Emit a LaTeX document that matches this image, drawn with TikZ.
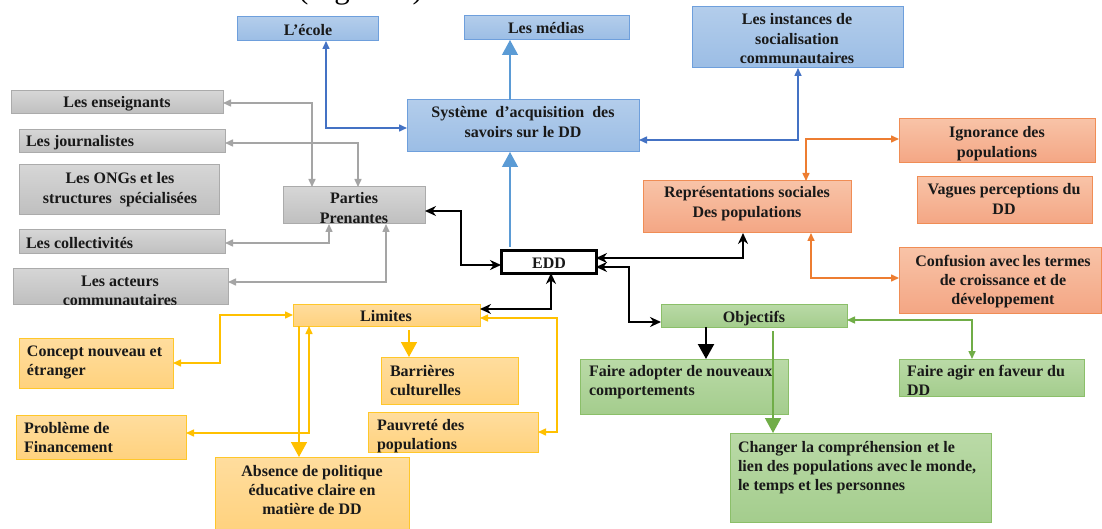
\documentclass[tikz,border=0pt]{standalone}
\usepackage{fontspec}
\setmainfont{Liberation Serif}
\usetikzlibrary{arrows.meta}
\definecolor{bluetop}{HTML}{B3CDEB}
\definecolor{bluebot}{HTML}{9BBDE5}
\definecolor{bluebd}{HTML}{6E9FDC}
\definecolor{graytop}{HTML}{D6D6D6}
\definecolor{graybot}{HTML}{BFBFBF}
\definecolor{graybd}{HTML}{ABABAB}
\definecolor{ortop}{HTML}{F8C3A7}
\definecolor{orbot}{HTML}{F4A684}
\definecolor{orbd}{HTML}{F08D55}
\definecolor{yeltop}{HTML}{FFDD9E}
\definecolor{yelbot}{HTML}{FFD27E}
\definecolor{yelbd}{HTML}{FFC72A}
\definecolor{grtop}{HTML}{BADAA7}
\definecolor{grbot}{HTML}{A4CD8D}
\definecolor{grbd}{HTML}{8BBF69}
\definecolor{lnblue}{HTML}{4472C4}
\definecolor{lnlblue}{HTML}{5B9BD5}
\definecolor{lngray}{HTML}{A5A5A5}
\definecolor{lnorange}{HTML}{ED7D31}
\definecolor{lnyel}{HTML}{FFC000}
\definecolor{lngreen}{HTML}{70AD47}
\newcommand\mkbox[6]{\node[#1, minimum width={#4-#2}, minimum height={#5-#3}] (#6) at ({(#2+#4)/2},{(#3+#5)/2}) {};}
\newcommand\ctext[1]{\vtop{\halign{\hfil##\hfil\cr#1\crcr}}}
\newcommand\ltext[1]{\vtop{\halign{##\hfil\cr#1\crcr}}}
\tikzset{
  box/.style={line width=1pt, inner sep=0pt, outer sep=0pt},
  bluebox/.style={box, draw=bluebd, top color=bluetop, bottom color=bluebot},
  graybox/.style={box, draw=graybd, top color=graytop, bottom color=graybot},
  orbox/.style={box, draw=orbd, top color=ortop, bottom color=orbot},
  yelbox/.style={box, draw=yelbd, top color=yeltop, bottom color=yelbot},
  grbox/.style={box, draw=grbd, top color=grtop, bottom color=grbot},
  eddbox/.style={box, draw=black, line width=3pt, fill=white},
  lbl/.style={inner sep=0pt, outer sep=0pt, font=\bfseries\fontsize{16}{19.3}\selectfont, text=black!90},
  lblc/.style={lbl, anchor=base},
  lbll/.style={lbl, anchor=base west},
  conn/.style={line width=1.5pt, >={Triangle[length=8pt,width=7pt]}},
  cblue/.style={conn, draw=lnblue},
  clblue/.style={conn, line width=1.2pt, draw=lnlblue},
  cgray/.style={conn, draw=lngray},
  corange/.style={conn, draw=lnorange},
  cyel/.style={conn, draw=lnyel},
  cgreen/.style={conn, draw=lngreen},
  cblack/.style={line width=2.2pt, draw=black, >={Stealth[length=11pt,width=10pt]}},
  bigarrow/.style={-{Triangle[length=15pt,width=16pt]}},
}
\begin{document}
\begin{tikzpicture}[x=1pt,y=-1pt]
\path[fill=white, use as bounding box] (0,0) rectangle (1102,529);

\node[font=\fontsize{31}{31}\selectfont, anchor=base west, inner sep=0pt] (title) at (298,-1) {(Figure 1)};

% boxes
\mkbox{bluebox}{237}{17}{378}{41}{ecole}
\mkbox{bluebox}{464}{16}{629}{40}{medias}
\mkbox{bluebox}{692}{7}{903}{68}{inst}
\mkbox{bluebox}{407}{100}{639}{152}{sys}
\mkbox{graybox}{11}{91}{223}{114}{ens}
\mkbox{graybox}{19}{130}{225}{153}{jour}
\mkbox{graybox}{19}{165}{219}{215}{ong}
\mkbox{graybox}{283}{187}{425}{224}{parties}
\mkbox{graybox}{19}{230}{225}{254}{coll}
\mkbox{graybox}{13}{268}{228}{304}{act}
\mkbox{orbox}{643}{181}{851}{233}{rep}
\mkbox{orbox}{899}{119}{1095}{163}{ign}
\mkbox{orbox}{917}{177}{1092}{224}{vag}
\mkbox{orbox}{899}{248}{1101}{313}{conf}
\mkbox{eddbox}{501}{251}{596}{273}{edd}
\mkbox{yelbox}{293}{304}{480}{326}{lim}
\mkbox{yelbox}{19}{338}{173}{388}{conc}
\mkbox{yelbox}{381}{357}{518}{404}{barr}
\mkbox{yelbox}{16}{415}{186}{459}{prob}
\mkbox{yelbox}{368}{412}{538}{452}{pauv}
\mkbox{yelbox}{215}{457}{409}{531}{abs}
\mkbox{grbox}{661}{304}{847}{327}{obj}
\mkbox{grbox}{580}{359}{788}{414}{adopt}
\mkbox{grbox}{899}{359}{1084}{396}{agir}
\mkbox{grbox}{730}{433}{991}{522}{chg}

% texts
\node[lblc] (tecole) at (308,36) {\ctext{L’école}};
\node[lblc] (tmedias) at (546,34) {\ctext{Les médias}};
\node[lblc] (tinst) at (797,25) {\ctext{Les instances de\cr socialisation\cr communautaires}};
\node[lblc] (tsys) at (523,118) {\ctext{Système\hspace{8pt}d’acquisition\hspace{8pt}des\cr savoirs sur le DD}};
\node[lblc] (tens) at (117,108) {\ctext{Les enseignants}};
\node[lbll] (tjour) at (26,147) {\ltext{Les journalistes}};
\node[lblc] (tong) at (120,184) {\ctext{Les ONGs et les\cr structures\hspace{8pt}spécialisées}};
\node[lblc] (tparties) at (354,204) {\ctext{Parties\cr Prenantes}};
\node[lbll] (tcoll) at (26,249) {\ltext{Les collectivités}};
\begin{scope}
\clip (act.north west) rectangle (act.south east);
\node[lblc] (tact) at (120,286) {\ctext{Les acteurs\cr communautaires}};
\end{scope}
\node[lblc] (trep) at (747,198) {\ctext{Représentations sociales\cr Des populations}};
\node[lblc] (tign) at (997,138) {\ctext{Ignorance des\cr populations}};
\node[lblc] (tvag) at (1004,195) {\ctext{Vagues perceptions du\cr DD}};
\node[lblc] (tconf) at (1003,266) {\ctext{Confusion avec\hspace{3pt}les termes\cr de croissance et de\cr développement}};
\node[lblc] (tedd) at (549,269) {\ctext{EDD}};
\node[lblc] (tlim) at (386,321) {\ctext{Limites}};
\node[lbll] (tconc) at (27,356) {\ltext{Concept nouveau et\cr étranger}};
\node[lbll] (tbarr) at (390,376) {\ltext{Barrières\cr culturelles}};
\node[lbll] (tprob) at (24,433) {\ltext{Problème de\cr Financement}};
\node[lbll] (tpauv) at (377,430) {\ltext{Pauvreté des\cr populations}};
\node[lblc] (tabs) at (312,476) {\ctext{Absence de politique\cr éducative claire en\cr matière de DD}};
\node[lblc] (tobj) at (754,322) {\ctext{Objectifs}};
\node[lbll] (tadopt) at (589,376) {\ltext{Faire adopter de nouveaux\cr comportements}};
\node[lbll] (tagir) at (907,376) {\ltext{Faire agir en faveur du\cr DD}};
\node[lbll] (tchg) at (738,452) {\ltext{Changer la compréhension\hspace{5pt}et le\cr lien des populations avec\hspace{3pt}le monde,\cr le temps et les personnes}};

% blue connectors
\draw[cblue,<->] (ecole.south -| 326,0) |- (sys.west |- 0,128);
\draw[clblue,bigarrow] (sys.north -| 510,0) -- (medias.south -| 510,0);
\draw[clblue,bigarrow,shorten <=4pt] (edd.north -| 510,0) -- (sys.south -| 510,0);
\draw[cblue,<->] (sys.east |- 0,140) -| (inst.south -| 798,0);
% gray connectors
\draw[cgray,<->] (ens.east |- 0,103) -| (parties.north -| 312,0);
\draw[cgray,<->] (jour.east |- 0,143) -| (parties.north -| 358,0);
\draw[cgray,<->] (coll.east |- 0,243) -| (parties.south -| 329,0);
\draw[cgray,<->] (act.east |- 0,282) -| (parties.south -| 386,0);
% black connectors
\draw[cblack,<->] (parties.east |- 0,211) -- (461,211) -- (461,265) -- (edd.west |- 0,265);
\draw[cblack,<->] (edd.east |- 0,258) -| (rep.south -| 743,0);
\draw[cblack,<->] (edd.east |- 0,267) -- (629,267) |- (obj.west |- 0,322);
\draw[cblack,<->] (edd.south -| 551,0) |- (lim.east |- 0,309);
\draw[cblack,bigarrow] (obj.south -| 706,0) -- (adopt.north -| 706,0);
% orange connectors
\draw[corange,<->] (rep.north -| 806,0) |- (ign.west |- 0,139);
\draw[corange,<->] (rep.south -| 811,0) |- (conf.west |- 0,278);
% yellow connectors
\draw[cyel,<->] (lim.west |- 0,315) -- (220,315) |- (conc.east |- 0,363);
\draw[cyel,<->] (lim.south -| 309,0) |- (prob.east |- 0,433);
\draw[cyel,bigarrow] (lim.south -| 299,0) -- (abs.north -| 299,0);
\draw[cyel,bigarrow,shorten <=4pt] (lim.south -| 409,0) -- (barr.north -| 409,0);
\draw[cyel,<->] (lim.east |- 0,318) -- (557,318) |- (pauv.east |- 0,432);
% green connectors
\draw[cgreen,<->] (obj.east |- 0,320) -| (agir.north -| 972,0);
\draw[cgreen,bigarrow,shorten <=4pt] (obj.south -| 773,0) -- (chg.north -| 773,0);
\end{tikzpicture}
\end{document}
